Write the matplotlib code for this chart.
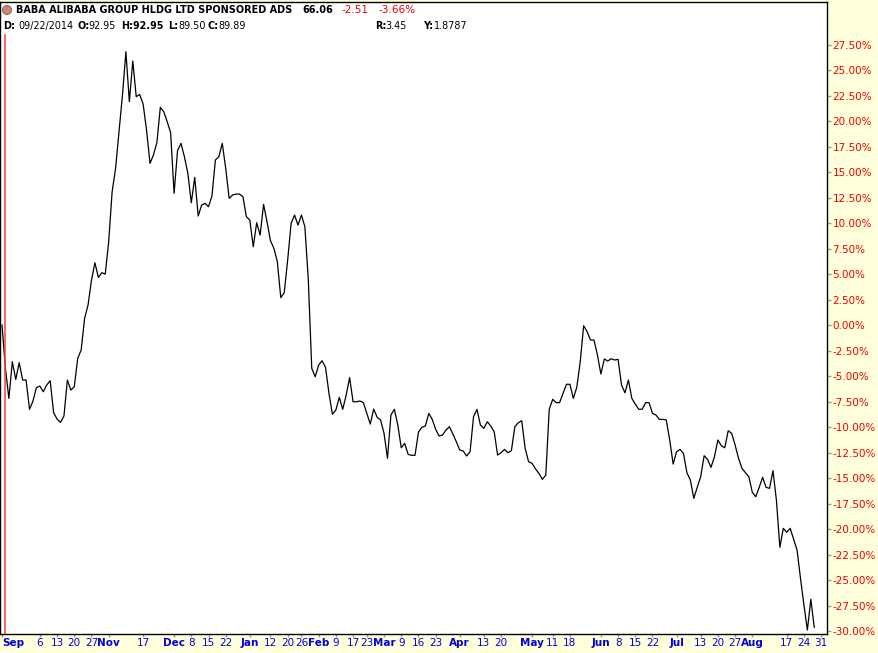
import numpy as np
import pandas as pd
import matplotlib
matplotlib.use("Agg")
import matplotlib.pyplot as plt
from matplotlib.patches import Ellipse
from matplotlib.ticker import MultipleLocator, FuncFormatter

# % change from first close (09/19/2014), one value per trading day
pct_change = [
    0.00, -4.26, -7.19, -3.59, -5.33, -3.69, -5.39, -5.39, -8.27, -7.45,
    -6.14, -5.98, -6.54, -5.88, -5.46, -8.59, -9.22, -9.54, -8.92, -5.39,
    -6.37, -6.05, -3.27, -2.45, 0.65, 1.96, 4.41, 6.11, 4.67, 5.13,
    5.00, 8.17, 13.07, 15.36, 18.95, 22.55, 26.80, 21.90, 25.88, 22.39,
    22.61, 21.67, 19.12, 15.85, 16.67, 17.88, 21.34, 20.92, 19.93, 18.86,
    12.91, 17.09, 17.81, 16.50, 14.87, 11.99, 14.48, 10.69, 11.76, 11.93,
    11.60, 12.65, 16.18, 16.50, 17.81, 15.36, 12.42, 12.75, 12.84, 12.84,
    12.58, 10.62, 10.29, 7.68, 10.03, 8.82, 11.83, 10.13, 8.27, 7.52,
    6.21, 2.68, 3.17, 6.37, 9.97, 10.78, 9.80, 10.78, 9.64, 4.41,
    -4.25, -5.07, -3.92, -3.50, -4.15, -6.70, -8.75, -8.33, -7.09, -8.26,
    -6.86, -5.16, -7.52, -7.52, -7.45, -7.61, -8.66, -9.71, -8.24, -9.05,
    -9.31, -10.62, -13.07, -8.82, -8.26, -9.80, -12.03, -11.60, -12.68, -12.77,
    -12.77, -10.49, -10.03, -9.90, -8.66, -9.25, -10.23, -10.88, -10.78, -10.29,
    -9.97, -10.69, -11.44, -12.25, -12.35, -12.84, -12.42, -8.99, -8.26, -9.80,
    -10.13, -9.48, -9.90, -10.46, -12.75, -12.52, -12.19, -12.52, -12.32, -9.97,
    -9.58, -9.38, -12.09, -13.40, -13.56, -14.10, -14.54, -15.13, -14.71, -8.25,
    -7.28, -7.61, -7.61, -6.70, -5.81, -5.81, -7.19, -6.11, -3.60, -0.07,
    -0.66, -1.47, -1.47, -2.94, -4.80, -3.33, -3.53, -3.30, -3.43, -3.36,
    -5.88, -6.64, -5.39, -7.19, -7.75, -8.26, -8.26, -7.61, -7.61, -8.66,
    -8.82, -9.25, -9.25, -9.31, -11.27, -13.63, -12.42, -12.19, -12.58, -14.48,
    -15.20, -16.99, -15.91, -14.87, -12.81, -13.17, -13.95, -12.91, -11.27, -11.83,
    -12.03, -10.36, -10.62, -11.76, -13.07, -14.05, -14.48, -14.87, -16.40, -16.83,
    -15.91, -14.93, -15.91, -16.01, -14.28, -17.16, -21.79, -19.93, -20.32, -19.93,
    -21.01, -22.06, -24.83, -27.45, -29.90, -26.89, -29.64,
]

# date axis labels (month names bold)
tick_dates = ["2014-09-19", "2014-10-06", "2014-10-13", "2014-10-20", "2014-10-27",
              "2014-11-03", "2014-11-17", "2014-12-01", "2014-12-08", "2014-12-15",
              "2014-12-22", "2015-01-02", "2015-01-12", "2015-01-20", "2015-01-26",
              "2015-02-02", "2015-02-09", "2015-02-17", "2015-02-23", "2015-03-02",
              "2015-03-09", "2015-03-16", "2015-03-23", "2015-04-01", "2015-04-13",
              "2015-04-20", "2015-05-01", "2015-05-11", "2015-05-18", "2015-06-01",
              "2015-06-08", "2015-06-15", "2015-06-22", "2015-07-01", "2015-07-13",
              "2015-07-20", "2015-07-27", "2015-08-03", "2015-08-17", "2015-08-24",
              "2015-08-31"]
tick_labels = ["Sep", "6", "13", "20", "27", "Nov", "17", "Dec", "8", "15", "22",
               "Jan", "12", "20", "26", "Feb", "9", "17", "23", "Mar", "9", "16", "23",
               "Apr", "13", "20", "May", "11", "18", "Jun", "8", "15", "22",
               "Jul", "13", "20", "27", "Aug", "17", "24", "31"]
holidays = ["2014-11-27", "2014-12-25", "2015-01-01", "2015-01-19", "2015-02-16",
            "2015-04-03", "2015-05-25", "2015-07-03"]

trading_days = pd.bdate_range("2014-09-19", "2015-08-31")
trading_days = trading_days[~trading_days.isin(pd.to_datetime(holidays))]
tick_pos = trading_days.searchsorted(pd.to_datetime(tick_dates))

W, H = 879, 653
YELLOW = "#FFFFDC"
fig = plt.figure(figsize=(W / 100, H / 100), dpi=100, facecolor=YELLOW)
ax = fig.add_axes([0 / W, (H - 634) / H, 827 / W, 632 / H])
ax.set_facecolor("white")

x = np.arange(len(pct_change))
ax.plot(x, pct_change, color="black", lw=0.9)

# cursor line at 09/22/2014
ax.axvline(1, ymin=0, ymax=(634 - 35) / 632, color="#FF3B3B", lw=1.1)

for s in ax.spines.values():
    s.set_color("black")
    s.set_linewidth(1)

ax.yaxis.tick_right()
ax.yaxis.set_major_locator(MultipleLocator(2.5))
ax.yaxis.set_major_formatter(FuncFormatter(lambda v, p: "%.2f%%" % v))
ax.tick_params(axis="y", colors="#999999", labelcolor="#EE0000", length=3,
               width=1, pad=1, labelsize=7.5)
ax.set_yticks(np.arange(-30, 27.6, 2.5))

ax.set_xticks(tick_pos)
ax.set_xticklabels(tick_labels)
ax.tick_params(axis="x", colors="#999999", labelcolor="#0000E0", length=2,
               width=1, pad=1, labelsize=7.5)
for lab in ax.get_xticklabels():
    if lab.get_text().isalpha():
        lab.set_fontweight("bold")
ax.get_xticklabels()[0].set_ha("left")

ax.set_xlim(-0.58, 239.7)
ax.set_ylim(-30.29, 31.67)


def put(px, py, s, **kw):
    fig.text(px / W, 1 - py / H, s, va="center", ha="left", **kw)


# header
fig.patches.append(Ellipse((7 / W, 1 - 10 / H), 9 / W, 9 / H, transform=fig.transFigure,
                           facecolor="#D8826E", edgecolor="#777777", lw=0.8))
put(16, 10, "BABA ALIBABA GROUP HLDG LTD SPONSORED ADS", fontsize=7.0, fontweight="bold")
put(302, 10, "66.06", fontsize=7.0, fontweight="bold")
put(341, 10, "-2.51", fontsize=7.6, color="#EE0000")
put(378, 10, "-3.66%", fontsize=7.6, color="#EE0000")

row2 = [
    (3, "D:", "bold"), (18, "09/22/2014", "normal"),
    (77, "O:", "bold"), (88, "92.95", "normal"),
    (121, "H:92.95", "bold"),
    (168, "L:", "bold"), (178, "89.50", "normal"),
    (208, "C:", "bold"), (218, "89.89", "normal"),
    (375, "R:", "bold"), (385, "3.45", "normal"),
    (423, "Y:", "bold"), (434, "1.8787", "normal"),
]
for px, s, w in row2:
    put(px, 26, s, fontsize=6.9, fontweight=w)

fig.savefig("out.png", dpi=100, facecolor=YELLOW)
